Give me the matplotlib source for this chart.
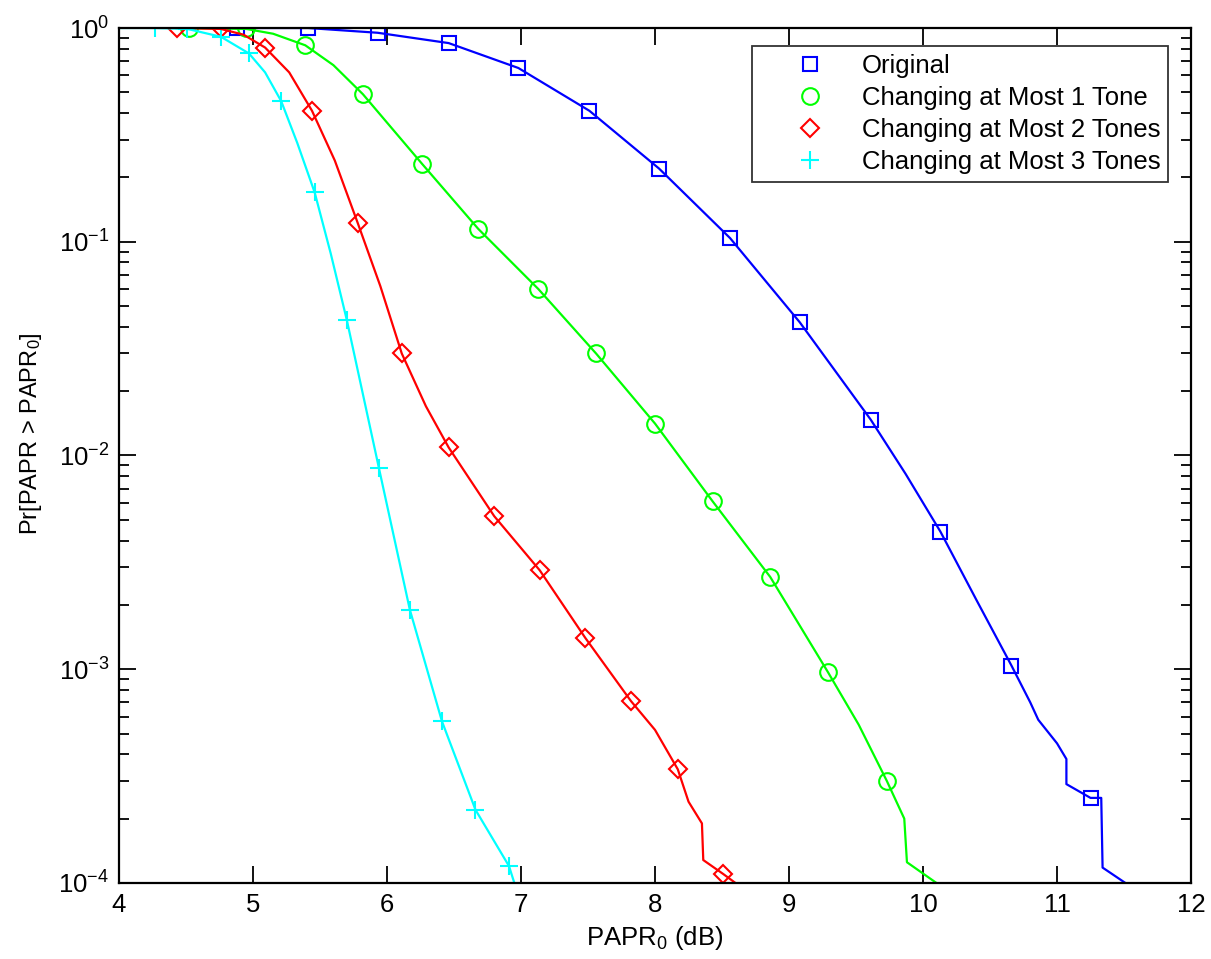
import matplotlib
matplotlib.use('Agg')
from matplotlib import pyplot as plt
import matplotlib.ticker as ticker

plt.rcParams['font.family'] = ['Liberation Sans', 'DejaVu Sans']
plt.rcParams['mathtext.default'] = 'regular'

# CCDF of PAPR
# markers (subsampled points shown on the curves)
orig_mx = [4.88, 5.41, 5.93, 6.46, 6.98, 7.51, 8.03, 8.56, 9.08, 9.61, 10.13, 10.66, 11.25]
orig_my = [1.0, 1.0, 0.95, 0.85, 0.65, 0.41, 0.22, 0.104, 0.042, 0.0147, 0.0044, 0.00104, 0.00025]

one_mx = [4.52, 4.95, 5.39, 5.82, 6.26, 6.68, 7.13, 7.56, 8.0, 8.43, 8.86, 9.29, 9.73]
one_my = [1.0, 1.0, 0.83, 0.49, 0.232, 0.115, 0.060, 0.030, 0.0141, 0.0061, 0.0027, 0.00097, 0.00030]

two_mx = [4.43, 4.76, 5.09, 5.44, 5.78, 6.11, 6.46, 6.80, 7.14, 7.48, 7.82, 8.17, 8.51]
two_my = [1.0, 1.0, 0.81, 0.41, 0.123, 0.030, 0.0109, 0.0052, 0.0029, 0.00140, 0.00071, 0.00034, 0.00011]

three_mx = [4.27, 4.51, 4.76, 4.97, 5.21, 5.46, 5.70, 5.94, 6.17, 6.41, 6.66, 6.91]
three_my = [1.0, 0.99, 0.91, 0.76, 0.455, 0.17, 0.043, 0.0087, 0.0019, 0.00057, 0.00022, 0.00012]

# full curves
orig_x = [4.85, 5.41, 5.93, 6.46, 6.98, 7.51, 8.03, 8.56, 9.08, 9.61, 9.87, 10.13, 10.40, 10.66,
          10.80, 10.86, 11.0, 11.07, 11.07, 11.25, 11.33, 11.34, 11.51]
orig_y = [1.0, 1.0, 0.95, 0.85, 0.65, 0.41, 0.22, 0.104, 0.042, 0.0147, 0.0082, 0.0044, 0.0021,
          0.00104, 0.00070, 0.00058, 0.00045, 0.00038, 0.00029, 0.00025, 0.00025, 0.000118, 0.0001]

one_x = [4.52, 4.95, 5.15, 5.39, 5.60, 5.82, 6.26, 6.68, 7.13, 7.56, 8.0, 8.43, 8.86, 9.08,
         9.29, 9.52, 9.73, 9.86, 9.88, 10.10]
one_y = [1.0, 0.99, 0.94, 0.83, 0.67, 0.49, 0.232, 0.115, 0.060, 0.030, 0.0141, 0.0061, 0.0027,
         0.0016, 0.00097, 0.00055, 0.00030, 0.00020, 0.000125, 0.0001]

two_x = [4.43, 4.76, 4.93, 5.09, 5.27, 5.44, 5.61, 5.78, 5.95, 6.11, 6.29, 6.46, 6.80, 7.14,
         7.48, 7.82, 8.0, 8.17, 8.25, 8.35, 8.36, 8.51, 8.60]
two_y = [1.0, 0.99, 0.93, 0.81, 0.62, 0.41, 0.24, 0.123, 0.062, 0.030, 0.017, 0.0109, 0.0052,
         0.0029, 0.00140, 0.00071, 0.00052, 0.00034, 0.00024, 0.00019, 0.000128, 0.00011, 0.0001]

three_x = [4.0, 4.27, 4.51, 4.76, 4.97, 5.09, 5.21, 5.33, 5.46, 5.58, 5.70, 5.94, 6.17, 6.41,
           6.66, 6.91, 6.95]
three_y = [1.0, 1.0, 0.99, 0.91, 0.76, 0.62, 0.455, 0.29, 0.17, 0.088, 0.043, 0.0087, 0.0019,
           0.00057, 0.00022, 0.00012, 0.0001]

labels = ['Original', 'Changing at Most 1 Tone', 'Changing at Most 2 Tones', 'Changing at Most 3 Tones']

fig = plt.figure(figsize=(12.11, 9.59), dpi=100)
ax = fig.add_axes([0.0983, 0.0793, 0.8852, 0.8915])

# markers only first (these go into the legend)
ax.plot(orig_mx, orig_my, 's', color='b', ms=9.5, mfc='none', mew=1.5, label=labels[0])
ax.plot(one_mx, one_my, 'o', color=(0, 1, 0), ms=12, mfc='none', mew=1.5, label=labels[1])
ax.plot(two_mx, two_my, 'D', color='r', ms=9.5, mfc='none', mew=1.5, label=labels[2])
ax.plot(three_mx, three_my, '+', color=(0, 1, 1), ms=13, mew=1.5, label=labels[3])

ax.plot(orig_x, orig_y, '-', color='b', lw=1.6)
ax.plot(one_x, one_y, '-', color=(0, 1, 0), lw=1.6)
ax.plot(two_x, two_y, '-', color='r', lw=1.6)
ax.plot(three_x, three_y, '-', color=(0, 1, 1), lw=1.6)

ax.set_yscale('log')
ax.set_xlim(4, 12)
ax.set_ylim(1e-4, 1)
ax.set_xticks(range(4, 13))
ax.yaxis.set_major_locator(ticker.LogLocator(base=10, numticks=10))
ax.yaxis.set_minor_locator(ticker.LogLocator(base=10, subs=range(2, 10), numticks=10))
ax.xaxis.set_minor_locator(ticker.NullLocator())

ax.tick_params(which='both', direction='in', top=True, right=True, width=1.3, labelsize=18.5)
ax.tick_params(which='major', length=12, pad=7)
ax.tick_params(which='minor', length=7)
for s in ax.spines.values():
    s.set_linewidth(1.6)

ax.set_xlabel('PAPR$_0$ (dB)', fontsize=18.5, labelpad=5)
ax.set_ylabel('Pr[PAPR > PAPR$_0$]', fontsize=17)
ax.yaxis.set_label_coords(-0.07, 0.525)

leg = ax.legend(loc='upper right', bbox_to_anchor=(0.9785, 0.979), borderaxespad=0,
                fontsize=18.5, frameon=True, fancybox=False, edgecolor='k',
                handlelength=3.9, handletextpad=0.05, borderpad=0.3, labelspacing=0.32)
leg.get_frame().set_linewidth(1.3)

fig.savefig('out.png', dpi=100)
